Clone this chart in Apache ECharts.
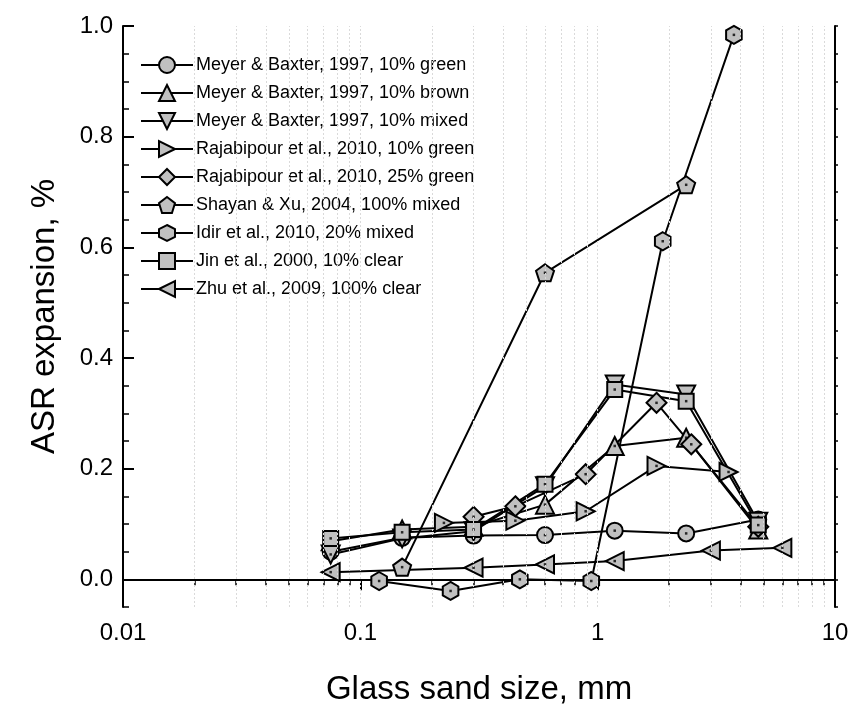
<!DOCTYPE html>
<html>
<head>
<meta charset="utf-8">
<script src="https://cdn.jsdelivr.net/npm/echarts@6/dist/echarts.min.js"></script>
<style>html,body{margin:0;padding:0;background:#fff}#c{width:858px;height:720px}</style>
</head>
<body>
<div id="c"></div>
<script>
// ---- data ----
const sizesMB = [0.075, 0.15, 0.3, 0.6, 1.18, 2.36, 4.75];
const meyerGreen = [0.050, 0.075, 0.079, 0.080, 0.088, 0.083, 0.108];
const meyerBrown = [0.069, 0.090, 0.095, 0.135, 0.241, 0.256, 0.090];
const meyerMixed = [0.045, 0.074, 0.087, 0.168, 0.352, 0.334, 0.104];
const rajab10X = [0.225, 0.45, 0.89, 1.77, 3.56];
const rajab10Y = [0.102, 0.106, 0.123, 0.205, 0.194];
const rajab25X = [0.3, 0.45, 0.89, 1.77, 2.48, 4.75];
const rajab25Y = [0.113, 0.132, 0.190, 0.319, 0.244, 0.095];
const shayanX = [0.15, 0.6, 2.36];
const shayanY = [0.022, 0.554, 0.713];
const idirX = [0.12, 0.24, 0.47, 0.94, 1.88, 3.75];
const idirY = [-0.003, -0.021, 0.000, -0.003, 0.611, 0.984];
const jinY = [0.074, 0.085, 0.090, 0.172, 0.343, 0.322, 0.098];
const zhuX = [0.075, 0.3, 0.6, 1.18, 3.0, 6.0];
const zhuY = [0.013, 0.021, 0.027, 0.033, 0.052, 0.057];

const seriesNames = [
  'Meyer & Baxter, 1997, 10% green',
  'Meyer & Baxter, 1997, 10% brown',
  'Meyer & Baxter, 1997, 10% mixed',
  'Rajabipour et al., 2010, 10% green',
  'Rajabipour et al., 2010, 25% green',
  'Shayan & Xu, 2004, 100% mixed',
  'Idir et al., 2010, 20% mixed',
  'Jin et al., 2000, 10% clear',
  'Zhu et al., 2009, 100% clear'
];
const xMajor = [0.01, 0.1, 1, 10];
const yMajor = [0, 0.2, 0.4, 0.6, 0.8, 1.0];

// ---- helpers ----
const zip = (xs, ys) => xs.map((x, i) => [x, ys[i]]);
const minorX = [];
[0.01, 0.1, 1].forEach(d => { for (let k = 2; k <= 9; k++) minorX.push(+(d * k).toPrecision(3)); });
const allX = xMajor.concat(minorX);
const minorY = [];
for (let k = -1; k <= 20; k++) minorY.push(+(k * 0.05).toFixed(2));

const PENT = 'path://M0,-1 L0.951,-0.309 L0.588,0.809 L-0.588,0.809 L-0.951,-0.309 Z';
const HEX = 'path://M0,-1 L0.866,-0.5 L0.866,0.5 L0,1 L-0.866,0.5 L-0.866,-0.5 Z';

const defs = [
  { data: zip(sizesMB, meyerGreen), symbol: 'circle', size: 16, rot: 0 },
  { data: zip(sizesMB, meyerBrown), symbol: 'triangle', size: 18, rot: 0 },
  { data: zip(sizesMB, meyerMixed), symbol: 'triangle', size: 18, rot: 180 },
  { data: zip(rajab10X, rajab10Y), symbol: 'triangle', size: 18, rot: -90 },
  { data: zip(rajab25X, rajab25Y), symbol: 'diamond', size: 20, rot: 0 },
  { data: zip(shayanX, shayanY), symbol: PENT, size: 18, rot: 0 },
  { data: zip(idirX, idirY), symbol: HEX, size: 18, rot: 0 },
  { data: zip(sizesMB, jinY), symbol: 'rect', size: 15, rot: 0 },
  { data: zip(zhuX, zhuY), symbol: 'triangle', size: 18, rot: 90 }
];

const FONT = 'Liberation Sans, Arial, sans-serif';
const series = [];
// dotted vertical grid lines
series.push({
  type: 'line', data: [], z: 1, silent: true,
  markLine: {
    silent: true, symbol: ['none', 'none'], animation: false,
    label: { show: false },
    lineStyle: { color: '#dadada', type: [2, 2], width: 1 },
    data: allX.filter(v => v > 0.01 && v < 10).map(v => ({ xAxis: v }))
  }
});
defs.forEach((d, i) => {
  series.push({
    name: seriesNames[i], type: 'line', data: d.data,
    symbol: d.symbol, symbolSize: d.size, symbolRotate: d.rot, symbolKeepAspect: true,
    showAllSymbol: true,
    lineStyle: { color: '#000', width: 2 },
    itemStyle: { color: '#c0c0c0', borderColor: '#000', borderWidth: 2 },
    z: 2
  });
  series.push({
    name: '_dot' + i, type: 'scatter', data: d.data, symbol: 'rect', symbolSize: 2.5,
    itemStyle: { color: '#000' }, silent: true, z: 2
  });
});

const chart = echarts.init(document.getElementById('c'), null, { renderer: 'canvas' });
chart.setOption({
  animation: false,
  backgroundColor: '#fff',
  grid: { left: 123, right: 23, top: 26, bottom: 113, containLabel: false },
  legend: {
    data: seriesNames, orient: 'vertical', left: 135, top: 50,
    itemWidth: 52, itemHeight: 20, itemGap: 8,
    symbolRotate: 'inherit',
    textStyle: { fontSize: 18, lineHeight: 20, color: '#000', fontFamily: FONT, padding: [0, 0, 0, -2] },
    selectedMode: false
  },
  xAxis: [
    {
      type: 'log', logBase: 10, min: 0.01, max: 10, position: 'bottom',
      name: 'Glass sand size, mm', nameLocation: 'middle', nameGap: 66,
      nameTextStyle: { fontSize: 33, color: '#000', fontFamily: FONT },
      axisLine: { show: true, lineStyle: { color: '#000', width: 2 } },
      axisTick: { show: true, inside: false, length: 11, lineStyle: { color: '#000', width: 2 } },
      axisLabel: { fontSize: 24, color: '#000', fontFamily: FONT, margin: 14 },
      splitLine: { show: false }
    },
    {
      type: 'log', logBase: 10, min: 0.01, max: 10, position: 'bottom',
      axisLine: { show: false },
      axisTick: { show: true, inside: false, length: 6, customValues: minorX, lineStyle: { color: '#000', width: 1.5 } },
      axisLabel: { show: false }, splitLine: { show: false }
    },
    {
      type: 'log', logBase: 10, min: 0.01, max: 10, position: 'top',
      axisLine: { show: true, lineStyle: { color: '#000', width: 2 } },
      axisTick: { show: true, inside: true, length: 4, customValues: allX, lineStyle: { color: '#000', width: 1.5 } },
      axisLabel: { show: false }, splitLine: { show: false }
    }
  ],
  yAxis: [
    {
      type: 'value', min: -0.05, max: 1.0, position: 'left',
      name: 'ASR expansion, %', nameLocation: 'middle', nameGap: 62,
      nameTextStyle: { fontSize: 33, color: '#000', fontFamily: FONT },
      axisLine: { show: true, lineStyle: { color: '#000', width: 2 } },
      axisTick: { show: true, inside: true, length: 11, customValues: yMajor, lineStyle: { color: '#000', width: 2 } },
      axisLabel: { customValues: yMajor, fontSize: 24, color: '#000', fontFamily: FONT, margin: 10,
        formatter: v => v.toFixed(1) },
      splitLine: { show: false }
    },
    {
      type: 'value', min: -0.05, max: 1.0, position: 'left',
      axisLine: { show: false },
      axisTick: { show: true, inside: true, length: 6, customValues: minorY, lineStyle: { color: '#000', width: 1.5 } },
      axisLabel: { show: false }, splitLine: { show: false }
    },
    {
      type: 'value', min: -0.05, max: 1.0, position: 'right',
      axisLine: { show: true, lineStyle: { color: '#000', width: 2 } },
      axisTick: { show: true, inside: false, length: 3, customValues: minorY, lineStyle: { color: '#000', width: 1.5 } },
      axisLabel: { show: false }, splitLine: { show: false }
    }
  ],
  series: series
});
</script>
</body>
</html>
